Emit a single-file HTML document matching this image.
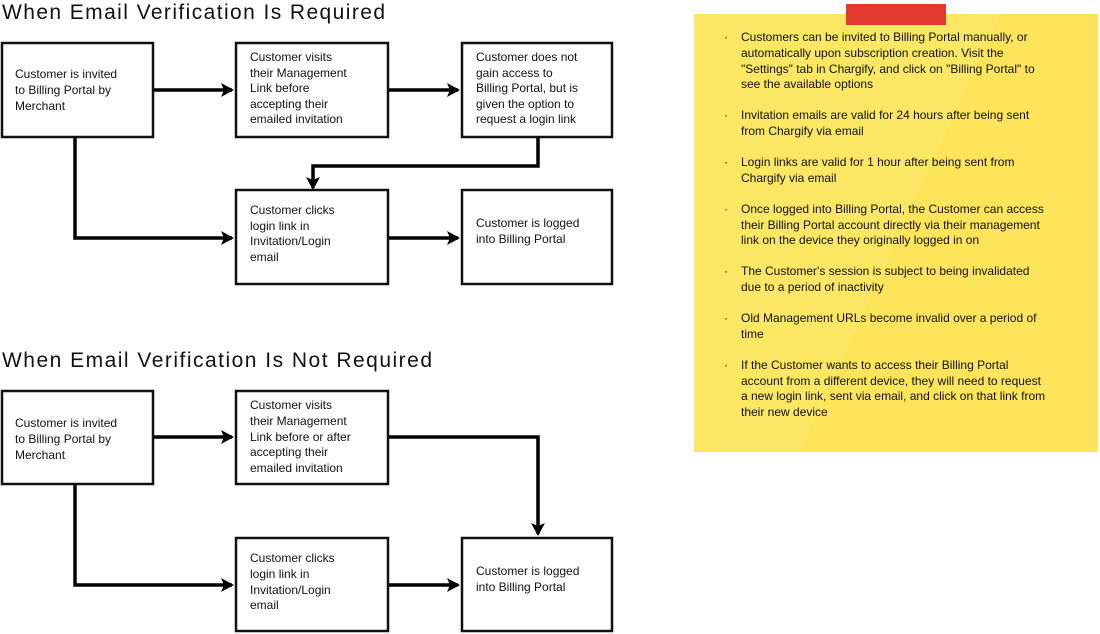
<!DOCTYPE html>
<html><head><meta charset="utf-8"><style>
html,body{margin:0;padding:0;background:#fff;width:1100px;height:634px;overflow:hidden}
svg{display:block}
text{font-family:"Liberation Sans",sans-serif;fill:#111}
.b{fill:#fff;stroke:#111;stroke-width:2.5}
.l{stroke:#000;stroke-width:3.5;fill:none}
.t{font-size:12px}
.n{font-size:12px}
.h{font-size:21px}
</style></head><body>
<svg width="1100" height="634" viewBox="0 0 1100 634">
<defs>
<marker id="a" markerWidth="14" markerHeight="14" refX="11" refY="7" orient="auto" markerUnits="userSpaceOnUse"><path d="M0,0 L13,7 L0,14 L3,7 z" fill="#000"/></marker>
</defs>
<!-- note -->
<rect x="694" y="14" width="404" height="438" fill="#fde45a"/>
<polygon points="694,14 1000,14 800,452 694,452" fill="#fcea6a" opacity="0.6"/>
<rect x="846" y="4" width="100" height="21" fill="#e23a2e"/>
<g class="n">
<text x="724" y="41">·</text><text x="741" y="41" class="n">Customers can be invited to Billing Portal manually, or</text>
<text x="741" y="57" class="n">automatically upon subscription creation. Visit the</text>
<text x="741" y="73" class="n">"Settings" tab in Chargify, and click on "Billing Portal" to</text>
<text x="741" y="88" class="n">see the available options</text>
<text x="724" y="119">·</text><text x="741" y="119" class="n">Invitation emails are valid for 24 hours after being sent</text>
<text x="741" y="135" class="n">from Chargify via email</text>
<text x="724" y="166">·</text><text x="741" y="166" class="n">Login links are valid for 1 hour after being sent from</text>
<text x="741" y="182" class="n">Chargify via email</text>
<text x="724" y="213">·</text><text x="741" y="213" class="n">Once logged into Billing Portal, the Customer can access</text>
<text x="741" y="229" class="n">their Billing Portal account directly via their management</text>
<text x="741" y="244" class="n">link on the device they originally logged in on</text>
<text x="724" y="275">·</text><text x="741" y="275" class="n">The Customer's session is subject to being invalidated</text>
<text x="741" y="291" class="n">due to a period of inactivity</text>
<text x="724" y="322">·</text><text x="741" y="322" class="n">Old Management URLs become invalid over a period of</text>
<text x="741" y="338" class="n">time</text>
<text x="724" y="369">·</text><text x="741" y="369" class="n">If the Customer wants to access their Billing Portal</text>
<text x="741" y="385" class="n">account from a different device, they will need to request</text>
<text x="741" y="400" class="n">a new login link, sent via email, and click on that link from</text>
<text x="741" y="416" class="n">their new device</text>
</g>
<!-- titles -->
<text x="2" y="19" class="h" textLength="383">When Email Verification Is Required</text>
<text x="2" y="367" class="h" textLength="430">When Email Verification Is Not Required</text>
<!-- top connectors -->
<path class="l" d="M153,90 H232" marker-end="url(#a)"/>
<path class="l" d="M388,90 H458" marker-end="url(#a)"/>
<path class="l" d="M538,137 V166 H313 V188" marker-end="url(#a)"/>
<path class="l" d="M75,137 V238 H232" marker-end="url(#a)"/>
<path class="l" d="M388,238 H458" marker-end="url(#a)"/>
<!-- bottom connectors -->
<path class="l" d="M153,437 H232" marker-end="url(#a)"/>
<path class="l" d="M388,437 H538 V534" marker-end="url(#a)"/>
<path class="l" d="M75,484 V585 H232" marker-end="url(#a)"/>
<path class="l" d="M388,585 H458" marker-end="url(#a)"/>
<!-- top boxes -->
<rect class="b" x="2" y="43" width="151" height="94"/>
<rect class="b" x="236" y="43" width="152" height="94"/>
<rect class="b" x="462" y="43" width="150" height="94"/>
<rect class="b" x="236" y="190" width="152" height="94"/>
<rect class="b" x="462" y="190" width="150" height="94"/>
<g class="t">
<text x="15" y="78">Customer is invited</text><text x="15" y="94">to Billing Portal by</text><text x="15" y="110">Merchant</text>
<text x="250" y="61">Customer visits</text><text x="250" y="77">their Management</text><text x="250" y="92">Link before</text><text x="250" y="108">accepting their</text><text x="250" y="123">emailed invitation</text>
<text x="476" y="61">Customer does not</text><text x="476" y="77">gain access to</text><text x="476" y="92">Billing Portal, but is</text><text x="476" y="108">given the option to</text><text x="476" y="123">request a login link</text>
<text x="250" y="214">Customer clicks</text><text x="250" y="230">login link in</text><text x="250" y="245">Invitation/Login</text><text x="250" y="261">email</text>
<text x="476" y="227">Customer is logged</text><text x="476" y="243">into Billing Portal</text>
</g>
<!-- bottom boxes -->
<rect class="b" x="2" y="391" width="151" height="93"/>
<rect class="b" x="236" y="391" width="152" height="93"/>
<rect class="b" x="236" y="538" width="152" height="93"/>
<rect class="b" x="462" y="538" width="150" height="93"/>
<g class="t">
<text x="15" y="427">Customer is invited</text><text x="15" y="443">to Billing Portal by</text><text x="15" y="459">Merchant</text>
<text x="250" y="409">Customer visits</text><text x="250" y="425">their Management</text><text x="250" y="441">Link before or after</text><text x="250" y="456">accepting their</text><text x="250" y="472">emailed invitation</text>
<text x="250" y="562">Customer clicks</text><text x="250" y="578">login link in</text><text x="250" y="594">Invitation/Login</text><text x="250" y="609">email</text>
<text x="476" y="575">Customer is logged</text><text x="476" y="591">into Billing Portal</text>
</g>
</svg>
</body></html>
